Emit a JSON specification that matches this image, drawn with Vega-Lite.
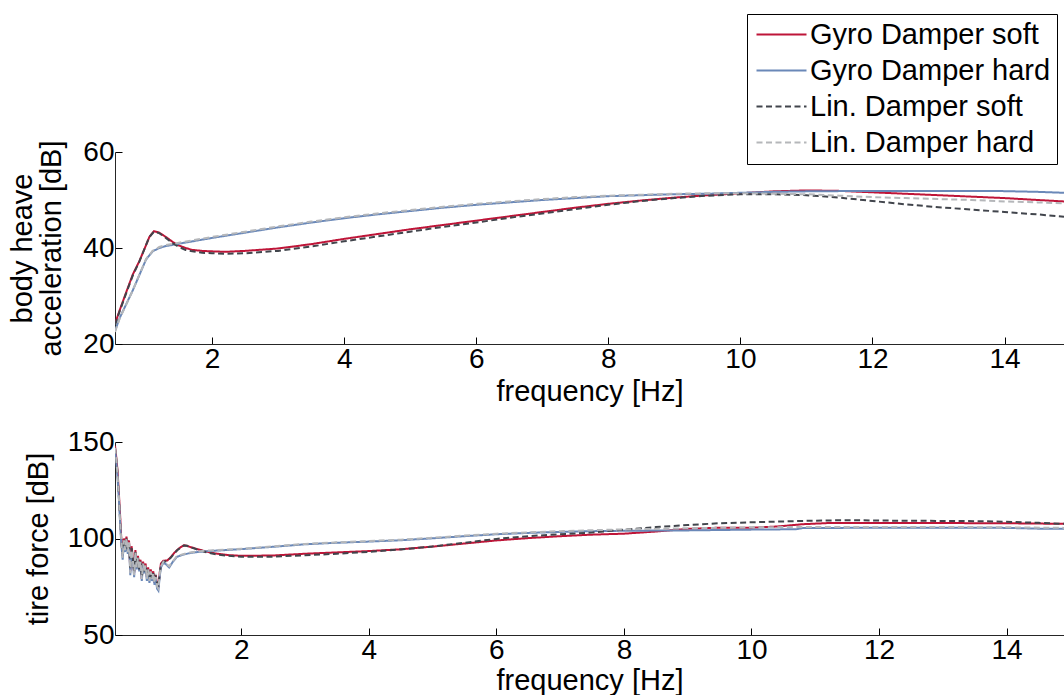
{
"$schema": "https://vega.github.io/schema/vega-lite/v6.json",
"padding": {"left": 8, "top": 13, "right": 0, "bottom": 0},
"config": {
  "font": "Liberation Sans",
  "view": {"stroke": null},
  "axis": {"grid": false, "domainColor": "#262626", "domainWidth": 1, "tickColor": "#000", "tickWidth": 1, "tickSize": -7, "labelPadding": 8, "labelColor": "#000", "titleColor": "#000", "labelFontSize": 28, "titleFontSize": 29, "titleFontWeight": "normal", "labelFont": "Liberation Sans", "titleFont": "Liberation Sans"}
},
"datasets": {
"body": [
{"s":"Gyro Damper soft","f":0.53,"v":24.2},{"s":"Gyro Damper soft","f":0.6,"v":27},{"s":"Gyro Damper soft","f":0.7,"v":30.8},{"s":"Gyro Damper soft","f":0.8,"v":34.5},{"s":"Gyro Damper soft","f":0.9,"v":37.3},{"s":"Gyro Damper soft","f":1.0,"v":40.6},{"s":"Gyro Damper soft","f":1.05,"v":42.3},{"s":"Gyro Damper soft","f":1.12,"v":43.5},{"s":"Gyro Damper soft","f":1.2,"v":43.2},{"s":"Gyro Damper soft","f":1.3,"v":42.3},{"s":"Gyro Damper soft","f":1.4,"v":41.3},{"s":"Gyro Damper soft","f":1.5,"v":40.5},{"s":"Gyro Damper soft","f":1.6,"v":40.0},{"s":"Gyro Damper soft","f":1.7,"v":39.6},{"s":"Gyro Damper soft","f":1.85,"v":39.4},{"s":"Gyro Damper soft","f":2.0,"v":39.3},{"s":"Gyro Damper soft","f":2.2,"v":39.2},{"s":"Gyro Damper soft","f":2.5,"v":39.4},{"s":"Gyro Damper soft","f":2.8,"v":39.7},{"s":"Gyro Damper soft","f":3.0,"v":39.9},{"s":"Gyro Damper soft","f":3.5,"v":40.8},{"s":"Gyro Damper soft","f":4.0,"v":41.9},{"s":"Gyro Damper soft","f":4.5,"v":42.9},{"s":"Gyro Damper soft","f":5.0,"v":43.9},{"s":"Gyro Damper soft","f":5.5,"v":44.8},{"s":"Gyro Damper soft","f":6.0,"v":45.7},{"s":"Gyro Damper soft","f":6.5,"v":46.6},{"s":"Gyro Damper soft","f":7.0,"v":47.5},{"s":"Gyro Damper soft","f":7.5,"v":48.4},{"s":"Gyro Damper soft","f":8.0,"v":49.2},{"s":"Gyro Damper soft","f":8.5,"v":49.9},{"s":"Gyro Damper soft","f":9.0,"v":50.5},{"s":"Gyro Damper soft","f":9.5,"v":51.0},{"s":"Gyro Damper soft","f":10.0,"v":51.4},{"s":"Gyro Damper soft","f":10.5,"v":51.8},{"s":"Gyro Damper soft","f":11.0,"v":52.0},{"s":"Gyro Damper soft","f":11.5,"v":51.9},{"s":"Gyro Damper soft","f":12.0,"v":51.6},{"s":"Gyro Damper soft","f":12.5,"v":51.3},{"s":"Gyro Damper soft","f":13.0,"v":51.0},{"s":"Gyro Damper soft","f":13.5,"v":50.7},{"s":"Gyro Damper soft","f":14.0,"v":50.4},{"s":"Gyro Damper soft","f":14.5,"v":50.0},{"s":"Gyro Damper soft","f":14.9,"v":49.7},
{"s":"Gyro Damper hard","f":0.53,"v":22.7},{"s":"Gyro Damper hard","f":0.6,"v":25.4},{"s":"Gyro Damper hard","f":0.7,"v":28.3},{"s":"Gyro Damper hard","f":0.8,"v":31.2},{"s":"Gyro Damper hard","f":0.9,"v":34.4},{"s":"Gyro Damper hard","f":1.0,"v":37.6},{"s":"Gyro Damper hard","f":1.1,"v":39.3},{"s":"Gyro Damper hard","f":1.2,"v":40.0},{"s":"Gyro Damper hard","f":1.3,"v":40.4},{"s":"Gyro Damper hard","f":1.5,"v":40.9},{"s":"Gyro Damper hard","f":1.75,"v":41.5},{"s":"Gyro Damper hard","f":2.0,"v":42.1},{"s":"Gyro Damper hard","f":2.5,"v":43.2},{"s":"Gyro Damper hard","f":3.0,"v":44.3},{"s":"Gyro Damper hard","f":3.5,"v":45.3},{"s":"Gyro Damper hard","f":4.0,"v":46.2},{"s":"Gyro Damper hard","f":4.5,"v":47.0},{"s":"Gyro Damper hard","f":5.0,"v":47.7},{"s":"Gyro Damper hard","f":5.5,"v":48.4},{"s":"Gyro Damper hard","f":6.0,"v":49.0},{"s":"Gyro Damper hard","f":6.5,"v":49.5},{"s":"Gyro Damper hard","f":7.0,"v":50.0},{"s":"Gyro Damper hard","f":7.5,"v":50.4},{"s":"Gyro Damper hard","f":8.0,"v":50.8},{"s":"Gyro Damper hard","f":8.5,"v":51.0},{"s":"Gyro Damper hard","f":9.0,"v":51.2},{"s":"Gyro Damper hard","f":9.5,"v":51.3},{"s":"Gyro Damper hard","f":10.0,"v":51.5},{"s":"Gyro Damper hard","f":10.5,"v":51.7},{"s":"Gyro Damper hard","f":11.0,"v":51.8},{"s":"Gyro Damper hard","f":12.0,"v":51.9},{"s":"Gyro Damper hard","f":13.0,"v":51.9},{"s":"Gyro Damper hard","f":13.8,"v":51.9},{"s":"Gyro Damper hard","f":14.5,"v":51.7},{"s":"Gyro Damper hard","f":14.9,"v":51.5},
{"s":"Lin. Damper soft","f":0.53,"v":24.0},{"s":"Lin. Damper soft","f":0.6,"v":26.8},{"s":"Lin. Damper soft","f":0.7,"v":30.6},{"s":"Lin. Damper soft","f":0.8,"v":34.3},{"s":"Lin. Damper soft","f":0.9,"v":37.2},{"s":"Lin. Damper soft","f":1.0,"v":40.6},{"s":"Lin. Damper soft","f":1.05,"v":42.3},{"s":"Lin. Damper soft","f":1.12,"v":43.4},{"s":"Lin. Damper soft","f":1.2,"v":43.1},{"s":"Lin. Damper soft","f":1.3,"v":42.1},{"s":"Lin. Damper soft","f":1.4,"v":41.0},{"s":"Lin. Damper soft","f":1.5,"v":40.2},{"s":"Lin. Damper soft","f":1.6,"v":39.6},{"s":"Lin. Damper soft","f":1.7,"v":39.3},{"s":"Lin. Damper soft","f":1.85,"v":39.0},{"s":"Lin. Damper soft","f":2.0,"v":38.9},{"s":"Lin. Damper soft","f":2.2,"v":38.8},{"s":"Lin. Damper soft","f":2.5,"v":38.9},{"s":"Lin. Damper soft","f":2.8,"v":39.2},{"s":"Lin. Damper soft","f":3.0,"v":39.4},{"s":"Lin. Damper soft","f":3.5,"v":40.3},{"s":"Lin. Damper soft","f":4.0,"v":41.4},{"s":"Lin. Damper soft","f":4.5,"v":42.4},{"s":"Lin. Damper soft","f":5.0,"v":43.4},{"s":"Lin. Damper soft","f":5.5,"v":44.4},{"s":"Lin. Damper soft","f":6.0,"v":45.3},{"s":"Lin. Damper soft","f":6.5,"v":46.3},{"s":"Lin. Damper soft","f":7.0,"v":47.2},{"s":"Lin. Damper soft","f":7.5,"v":48.1},{"s":"Lin. Damper soft","f":8.0,"v":49.0},{"s":"Lin. Damper soft","f":8.5,"v":49.8},{"s":"Lin. Damper soft","f":9.0,"v":50.4},{"s":"Lin. Damper soft","f":9.5,"v":50.9},{"s":"Lin. Damper soft","f":10.0,"v":51.2},{"s":"Lin. Damper soft","f":10.5,"v":51.2},{"s":"Lin. Damper soft","f":11.0,"v":51.0},{"s":"Lin. Damper soft","f":11.5,"v":50.5},{"s":"Lin. Damper soft","f":12.0,"v":49.8},{"s":"Lin. Damper soft","f":12.5,"v":49.1},{"s":"Lin. Damper soft","f":13.0,"v":48.5},{"s":"Lin. Damper soft","f":13.5,"v":48.0},{"s":"Lin. Damper soft","f":14.0,"v":47.5},{"s":"Lin. Damper soft","f":14.5,"v":47.0},{"s":"Lin. Damper soft","f":14.9,"v":46.5},
{"s":"Lin. Damper hard","f":0.53,"v":22.5},{"s":"Lin. Damper hard","f":0.6,"v":25.3},{"s":"Lin. Damper hard","f":0.7,"v":28.2},{"s":"Lin. Damper hard","f":0.8,"v":31.2},{"s":"Lin. Damper hard","f":0.9,"v":34.5},{"s":"Lin. Damper hard","f":1.0,"v":37.7},{"s":"Lin. Damper hard","f":1.1,"v":39.4},{"s":"Lin. Damper hard","f":1.2,"v":40.2},{"s":"Lin. Damper hard","f":1.3,"v":40.6},{"s":"Lin. Damper hard","f":1.5,"v":41.1},{"s":"Lin. Damper hard","f":1.75,"v":41.7},{"s":"Lin. Damper hard","f":2.0,"v":42.3},{"s":"Lin. Damper hard","f":2.5,"v":43.4},{"s":"Lin. Damper hard","f":3.0,"v":44.5},{"s":"Lin. Damper hard","f":3.5,"v":45.5},{"s":"Lin. Damper hard","f":4.0,"v":46.4},{"s":"Lin. Damper hard","f":4.5,"v":47.2},{"s":"Lin. Damper hard","f":5.0,"v":47.9},{"s":"Lin. Damper hard","f":5.5,"v":48.6},{"s":"Lin. Damper hard","f":6.0,"v":49.2},{"s":"Lin. Damper hard","f":6.5,"v":49.7},{"s":"Lin. Damper hard","f":7.0,"v":50.2},{"s":"Lin. Damper hard","f":7.5,"v":50.6},{"s":"Lin. Damper hard","f":8.0,"v":50.9},{"s":"Lin. Damper hard","f":8.5,"v":51.1},{"s":"Lin. Damper hard","f":9.0,"v":51.3},{"s":"Lin. Damper hard","f":9.5,"v":51.4},{"s":"Lin. Damper hard","f":10.0,"v":51.4},{"s":"Lin. Damper hard","f":10.5,"v":51.3},{"s":"Lin. Damper hard","f":11.0,"v":51.2},{"s":"Lin. Damper hard","f":11.5,"v":50.9},{"s":"Lin. Damper hard","f":12.0,"v":50.6},{"s":"Lin. Damper hard","f":12.5,"v":50.4},{"s":"Lin. Damper hard","f":13.0,"v":50.2},{"s":"Lin. Damper hard","f":13.5,"v":50.0},{"s":"Lin. Damper hard","f":14.0,"v":49.7},{"s":"Lin. Damper hard","f":14.5,"v":49.5},{"s":"Lin. Damper hard","f":14.9,"v":49.3}
],
"tire": [
{"s":"Gyro Damper soft","f":0.02,"v":148},{"s":"Gyro Damper soft","f":0.04,"v":142},{"s":"Gyro Damper soft","f":0.06,"v":135},{"s":"Gyro Damper soft","f":0.08,"v":124},{"s":"Gyro Damper soft","f":0.1,"v":112},{"s":"Gyro Damper soft","f":0.12,"v":99},{"s":"Gyro Damper soft","f":0.14,"v":91},{"s":"Gyro Damper soft","f":0.16,"v":100},{"s":"Gyro Damper soft","f":0.18,"v":96},{"s":"Gyro Damper soft","f":0.2,"v":101},{"s":"Gyro Damper soft","f":0.22,"v":94},{"s":"Gyro Damper soft","f":0.24,"v":99},{"s":"Gyro Damper soft","f":0.26,"v":83},{"s":"Gyro Damper soft","f":0.28,"v":96},{"s":"Gyro Damper soft","f":0.3,"v":90},{"s":"Gyro Damper soft","f":0.32,"v":82},{"s":"Gyro Damper soft","f":0.34,"v":94},{"s":"Gyro Damper soft","f":0.36,"v":86},{"s":"Gyro Damper soft","f":0.38,"v":91},{"s":"Gyro Damper soft","f":0.4,"v":85},{"s":"Gyro Damper soft","f":0.42,"v":89},{"s":"Gyro Damper soft","f":0.44,"v":79},{"s":"Gyro Damper soft","f":0.46,"v":88},{"s":"Gyro Damper soft","f":0.48,"v":84},{"s":"Gyro Damper soft","f":0.5,"v":87},{"s":"Gyro Damper soft","f":0.52,"v":80},{"s":"Gyro Damper soft","f":0.54,"v":85},{"s":"Gyro Damper soft","f":0.56,"v":79},{"s":"Gyro Damper soft","f":0.58,"v":84},{"s":"Gyro Damper soft","f":0.6,"v":80},{"s":"Gyro Damper soft","f":0.62,"v":83},{"s":"Gyro Damper soft","f":0.64,"v":77},{"s":"Gyro Damper soft","f":0.66,"v":81},{"s":"Gyro Damper soft","f":0.68,"v":76},{"s":"Gyro Damper soft","f":0.7,"v":74.5},{"s":"Gyro Damper soft","f":0.72,"v":82},
{"s":"Gyro Damper soft","f":0.74,"v":87},{"s":"Gyro Damper soft","f":0.78,"v":88.5},{"s":"Gyro Damper soft","f":0.84,"v":88.6},{"s":"Gyro Damper soft","f":0.9,"v":90.5},{"s":"Gyro Damper soft","f":0.95,"v":92.6},{"s":"Gyro Damper soft","f":1.0,"v":94.2},{"s":"Gyro Damper soft","f":1.05,"v":95.5},{"s":"Gyro Damper soft","f":1.1,"v":96.5},{"s":"Gyro Damper soft","f":1.15,"v":96.2},{"s":"Gyro Damper soft","f":1.2,"v":95.6},{"s":"Gyro Damper soft","f":1.3,"v":94.6},{"s":"Gyro Damper soft","f":1.45,"v":93.2},{"s":"Gyro Damper soft","f":1.6,"v":92.2},{"s":"Gyro Damper soft","f":1.8,"v":91.4},{"s":"Gyro Damper soft","f":2.0,"v":91.0},{"s":"Gyro Damper soft","f":2.5,"v":91.2},{"s":"Gyro Damper soft","f":3.0,"v":92.1},{"s":"Gyro Damper soft","f":3.5,"v":92.8},{"s":"Gyro Damper soft","f":4.0,"v":93.5},{"s":"Gyro Damper soft","f":4.5,"v":94.4},{"s":"Gyro Damper soft","f":5.0,"v":95.8},{"s":"Gyro Damper soft","f":5.5,"v":97.4},{"s":"Gyro Damper soft","f":6.0,"v":99.0},{"s":"Gyro Damper soft","f":6.5,"v":100.2},{"s":"Gyro Damper soft","f":7.0,"v":101.2},{"s":"Gyro Damper soft","f":7.5,"v":102.0},{"s":"Gyro Damper soft","f":8.0,"v":102.5},{"s":"Gyro Damper soft","f":8.5,"v":103.6},{"s":"Gyro Damper soft","f":9.0,"v":105.0},{"s":"Gyro Damper soft","f":9.5,"v":105.6},{"s":"Gyro Damper soft","f":10.0,"v":105.6},{"s":"Gyro Damper soft","f":10.4,"v":106.2},{"s":"Gyro Damper soft","f":10.8,"v":107.4},{"s":"Gyro Damper soft","f":11.2,"v":108.0},{"s":"Gyro Damper soft","f":12.0,"v":108.0},{"s":"Gyro Damper soft","f":13.0,"v":108.0},{"s":"Gyro Damper soft","f":14.0,"v":107.9},{"s":"Gyro Damper soft","f":14.9,"v":107.6},
{"s":"Gyro Damper hard","f":0.02,"v":146},{"s":"Gyro Damper hard","f":0.04,"v":140},{"s":"Gyro Damper hard","f":0.06,"v":132},{"s":"Gyro Damper hard","f":0.08,"v":121},{"s":"Gyro Damper hard","f":0.1,"v":108},{"s":"Gyro Damper hard","f":0.12,"v":97},{"s":"Gyro Damper hard","f":0.14,"v":89},{"s":"Gyro Damper hard","f":0.16,"v":98},{"s":"Gyro Damper hard","f":0.18,"v":93},{"s":"Gyro Damper hard","f":0.2,"v":99},{"s":"Gyro Damper hard","f":0.22,"v":92},{"s":"Gyro Damper hard","f":0.24,"v":97},{"s":"Gyro Damper hard","f":0.26,"v":81},{"s":"Gyro Damper hard","f":0.28,"v":93},{"s":"Gyro Damper hard","f":0.3,"v":88},{"s":"Gyro Damper hard","f":0.32,"v":80},{"s":"Gyro Damper hard","f":0.34,"v":92},{"s":"Gyro Damper hard","f":0.36,"v":84},{"s":"Gyro Damper hard","f":0.38,"v":89},{"s":"Gyro Damper hard","f":0.4,"v":83},{"s":"Gyro Damper hard","f":0.42,"v":87},{"s":"Gyro Damper hard","f":0.44,"v":78},{"s":"Gyro Damper hard","f":0.46,"v":86},{"s":"Gyro Damper hard","f":0.48,"v":82},{"s":"Gyro Damper hard","f":0.5,"v":85},{"s":"Gyro Damper hard","f":0.52,"v":78},{"s":"Gyro Damper hard","f":0.54,"v":83},{"s":"Gyro Damper hard","f":0.56,"v":77},{"s":"Gyro Damper hard","f":0.58,"v":82},{"s":"Gyro Damper hard","f":0.6,"v":78},{"s":"Gyro Damper hard","f":0.62,"v":81},{"s":"Gyro Damper hard","f":0.64,"v":76},{"s":"Gyro Damper hard","f":0.66,"v":79},{"s":"Gyro Damper hard","f":0.68,"v":74},{"s":"Gyro Damper hard","f":0.7,"v":73},{"s":"Gyro Damper hard","f":0.72,"v":80},
{"s":"Gyro Damper hard","f":0.74,"v":85},{"s":"Gyro Damper hard","f":0.78,"v":87.5},{"s":"Gyro Damper hard","f":0.82,"v":86.6},{"s":"Gyro Damper hard","f":0.87,"v":85.0},{"s":"Gyro Damper hard","f":0.92,"v":87.6},{"s":"Gyro Damper hard","f":0.99,"v":90.5},{"s":"Gyro Damper hard","f":1.05,"v":91.2},{"s":"Gyro Damper hard","f":1.1,"v":91.7},{"s":"Gyro Damper hard","f":1.2,"v":92.5},{"s":"Gyro Damper hard","f":1.35,"v":93.1},{"s":"Gyro Damper hard","f":1.5,"v":93.5},{"s":"Gyro Damper hard","f":2.0,"v":94.5},{"s":"Gyro Damper hard","f":2.5,"v":95.7},{"s":"Gyro Damper hard","f":3.0,"v":97.0},{"s":"Gyro Damper hard","f":3.5,"v":97.8},{"s":"Gyro Damper hard","f":4.0,"v":98.4},{"s":"Gyro Damper hard","f":4.5,"v":99.1},{"s":"Gyro Damper hard","f":5.0,"v":100.1},{"s":"Gyro Damper hard","f":5.5,"v":101.2},{"s":"Gyro Damper hard","f":6.0,"v":102.2},{"s":"Gyro Damper hard","f":6.5,"v":102.9},{"s":"Gyro Damper hard","f":7.0,"v":103.4},{"s":"Gyro Damper hard","f":7.5,"v":103.8},{"s":"Gyro Damper hard","f":8.0,"v":104.0},{"s":"Gyro Damper hard","f":9.0,"v":104.2},{"s":"Gyro Damper hard","f":10.0,"v":104.6},{"s":"Gyro Damper hard","f":10.7,"v":104.8},{"s":"Gyro Damper hard","f":10.8,"v":105.4},{"s":"Gyro Damper hard","f":12.0,"v":105.6},{"s":"Gyro Damper hard","f":13.0,"v":105.6},{"s":"Gyro Damper hard","f":14.0,"v":105.5},{"s":"Gyro Damper hard","f":14.5,"v":105.1},{"s":"Gyro Damper hard","f":14.9,"v":105.0},
{"s":"Lin. Damper soft","f":0.02,"v":147},{"s":"Lin. Damper soft","f":0.04,"v":141},{"s":"Lin. Damper soft","f":0.06,"v":134},{"s":"Lin. Damper soft","f":0.08,"v":122},{"s":"Lin. Damper soft","f":0.1,"v":110},{"s":"Lin. Damper soft","f":0.12,"v":98},{"s":"Lin. Damper soft","f":0.14,"v":92},{"s":"Lin. Damper soft","f":0.16,"v":99},{"s":"Lin. Damper soft","f":0.18,"v":95},{"s":"Lin. Damper soft","f":0.2,"v":100},{"s":"Lin. Damper soft","f":0.22,"v":93},{"s":"Lin. Damper soft","f":0.24,"v":98},{"s":"Lin. Damper soft","f":0.26,"v":84},{"s":"Lin. Damper soft","f":0.28,"v":95},{"s":"Lin. Damper soft","f":0.3,"v":89},{"s":"Lin. Damper soft","f":0.32,"v":83},{"s":"Lin. Damper soft","f":0.34,"v":93},{"s":"Lin. Damper soft","f":0.36,"v":85},{"s":"Lin. Damper soft","f":0.38,"v":90},{"s":"Lin. Damper soft","f":0.4,"v":84},{"s":"Lin. Damper soft","f":0.42,"v":88},{"s":"Lin. Damper soft","f":0.44,"v":80},{"s":"Lin. Damper soft","f":0.46,"v":87},{"s":"Lin. Damper soft","f":0.48,"v":83},{"s":"Lin. Damper soft","f":0.5,"v":86},{"s":"Lin. Damper soft","f":0.52,"v":81},{"s":"Lin. Damper soft","f":0.54,"v":84},{"s":"Lin. Damper soft","f":0.56,"v":80},{"s":"Lin. Damper soft","f":0.58,"v":83},{"s":"Lin. Damper soft","f":0.6,"v":79},{"s":"Lin. Damper soft","f":0.62,"v":82},{"s":"Lin. Damper soft","f":0.64,"v":78},{"s":"Lin. Damper soft","f":0.66,"v":80},{"s":"Lin. Damper soft","f":0.68,"v":77},{"s":"Lin. Damper soft","f":0.7,"v":75},{"s":"Lin. Damper soft","f":0.72,"v":81},
{"s":"Lin. Damper soft","f":0.74,"v":86.5},{"s":"Lin. Damper soft","f":0.78,"v":88.0},{"s":"Lin. Damper soft","f":0.84,"v":88.3},{"s":"Lin. Damper soft","f":0.9,"v":90.2},{"s":"Lin. Damper soft","f":0.95,"v":92.4},{"s":"Lin. Damper soft","f":1.0,"v":94.0},{"s":"Lin. Damper soft","f":1.05,"v":95.4},{"s":"Lin. Damper soft","f":1.1,"v":96.4},{"s":"Lin. Damper soft","f":1.15,"v":96.2},{"s":"Lin. Damper soft","f":1.2,"v":95.5},{"s":"Lin. Damper soft","f":1.3,"v":94.4},{"s":"Lin. Damper soft","f":1.45,"v":92.9},{"s":"Lin. Damper soft","f":1.6,"v":91.8},{"s":"Lin. Damper soft","f":1.8,"v":91.0},{"s":"Lin. Damper soft","f":2.0,"v":90.6},{"s":"Lin. Damper soft","f":2.5,"v":90.6},{"s":"Lin. Damper soft","f":3.0,"v":91.3},{"s":"Lin. Damper soft","f":3.5,"v":92.1},{"s":"Lin. Damper soft","f":4.0,"v":93.1},{"s":"Lin. Damper soft","f":4.5,"v":94.3},{"s":"Lin. Damper soft","f":5.0,"v":95.9},{"s":"Lin. Damper soft","f":5.5,"v":97.8},{"s":"Lin. Damper soft","f":6.0,"v":99.8},{"s":"Lin. Damper soft","f":6.5,"v":101.2},{"s":"Lin. Damper soft","f":7.0,"v":102.2},{"s":"Lin. Damper soft","f":7.5,"v":103.1},{"s":"Lin. Damper soft","f":8.0,"v":104.6},{"s":"Lin. Damper soft","f":8.5,"v":105.9},{"s":"Lin. Damper soft","f":9.0,"v":107.0},{"s":"Lin. Damper soft","f":9.5,"v":107.9},{"s":"Lin. Damper soft","f":10.0,"v":108.4},{"s":"Lin. Damper soft","f":10.8,"v":109.1},{"s":"Lin. Damper soft","f":11.5,"v":109.5},{"s":"Lin. Damper soft","f":12.0,"v":109.3},{"s":"Lin. Damper soft","f":13.0,"v":109.1},{"s":"Lin. Damper soft","f":13.5,"v":109.0},{"s":"Lin. Damper soft","f":14.0,"v":108.7},{"s":"Lin. Damper soft","f":14.5,"v":108.1},{"s":"Lin. Damper soft","f":14.9,"v":107.6},
{"s":"Lin. Damper hard","f":0.02,"v":147},{"s":"Lin. Damper hard","f":0.04,"v":141},{"s":"Lin. Damper hard","f":0.06,"v":133},{"s":"Lin. Damper hard","f":0.08,"v":122},{"s":"Lin. Damper hard","f":0.1,"v":109},{"s":"Lin. Damper hard","f":0.12,"v":98},{"s":"Lin. Damper hard","f":0.14,"v":90},{"s":"Lin. Damper hard","f":0.16,"v":99},{"s":"Lin. Damper hard","f":0.18,"v":94},{"s":"Lin. Damper hard","f":0.2,"v":100},{"s":"Lin. Damper hard","f":0.22,"v":93},{"s":"Lin. Damper hard","f":0.24,"v":98},{"s":"Lin. Damper hard","f":0.26,"v":82},{"s":"Lin. Damper hard","f":0.28,"v":94},{"s":"Lin. Damper hard","f":0.3,"v":89},{"s":"Lin. Damper hard","f":0.32,"v":81},{"s":"Lin. Damper hard","f":0.34,"v":93},{"s":"Lin. Damper hard","f":0.36,"v":85},{"s":"Lin. Damper hard","f":0.38,"v":90},{"s":"Lin. Damper hard","f":0.4,"v":84},{"s":"Lin. Damper hard","f":0.42,"v":88},{"s":"Lin. Damper hard","f":0.44,"v":79},{"s":"Lin. Damper hard","f":0.46,"v":87},{"s":"Lin. Damper hard","f":0.48,"v":83},{"s":"Lin. Damper hard","f":0.5,"v":86},{"s":"Lin. Damper hard","f":0.52,"v":79},{"s":"Lin. Damper hard","f":0.54,"v":84},{"s":"Lin. Damper hard","f":0.56,"v":78},{"s":"Lin. Damper hard","f":0.58,"v":83},{"s":"Lin. Damper hard","f":0.6,"v":79},{"s":"Lin. Damper hard","f":0.62,"v":82},{"s":"Lin. Damper hard","f":0.64,"v":77},{"s":"Lin. Damper hard","f":0.66,"v":80},{"s":"Lin. Damper hard","f":0.68,"v":75},{"s":"Lin. Damper hard","f":0.7,"v":74},{"s":"Lin. Damper hard","f":0.72,"v":81},
{"s":"Lin. Damper hard","f":0.74,"v":85.5},{"s":"Lin. Damper hard","f":0.78,"v":88.0},{"s":"Lin. Damper hard","f":0.82,"v":87.0},{"s":"Lin. Damper hard","f":0.87,"v":85.6},{"s":"Lin. Damper hard","f":0.92,"v":88.0},{"s":"Lin. Damper hard","f":0.99,"v":90.8},{"s":"Lin. Damper hard","f":1.05,"v":91.5},{"s":"Lin. Damper hard","f":1.1,"v":92.0},{"s":"Lin. Damper hard","f":1.2,"v":92.8},{"s":"Lin. Damper hard","f":1.35,"v":93.4},{"s":"Lin. Damper hard","f":1.5,"v":93.8},{"s":"Lin. Damper hard","f":2.0,"v":94.7},{"s":"Lin. Damper hard","f":2.5,"v":95.9},{"s":"Lin. Damper hard","f":3.0,"v":97.2},{"s":"Lin. Damper hard","f":3.5,"v":98.0},{"s":"Lin. Damper hard","f":4.0,"v":98.7},{"s":"Lin. Damper hard","f":4.5,"v":99.4},{"s":"Lin. Damper hard","f":5.0,"v":100.4},{"s":"Lin. Damper hard","f":5.5,"v":101.5},{"s":"Lin. Damper hard","f":6.0,"v":102.5},{"s":"Lin. Damper hard","f":6.5,"v":103.2},{"s":"Lin. Damper hard","f":7.0,"v":103.8},{"s":"Lin. Damper hard","f":7.5,"v":104.3},{"s":"Lin. Damper hard","f":8.0,"v":104.7},{"s":"Lin. Damper hard","f":9.0,"v":105.3},{"s":"Lin. Damper hard","f":10.0,"v":105.8},{"s":"Lin. Damper hard","f":11.0,"v":106.0},{"s":"Lin. Damper hard","f":12.0,"v":106.0},{"s":"Lin. Damper hard","f":13.0,"v":106.0},{"s":"Lin. Damper hard","f":14.0,"v":105.8},{"s":"Lin. Damper hard","f":14.9,"v":105.5}
]
},
"spacing": 98,
"bounds": "flush",
"resolve": {"scale": {"x": "independent", "y": "independent", "color": "independent", "strokeDash": "independent"}},
"vconcat": [
{
  "width": 949, "height": 192,
  "data": {"name": "body"},
  "mark": {"type": "line", "strokeWidth": 2, "clip": true},
  "encoding": {
    "x": {"field": "f", "type": "quantitative", "scale": {"domain": [0.53, 14.9], "nice": false, "zero": false}, "axis": {"values": [2,4,6,8,10,12,14], "title": "frequency [Hz]", "titlePadding": 4}},
    "y": {"field": "v", "type": "quantitative", "scale": {"domain": [20, 60], "nice": false, "zero": false}, "axis": {"values": [20,40,60], "title": ["body heave", "acceleration [dB]"], "titleLineHeight": 29, "titlePadding": 16}},
    "color": {"field": "s", "type": "nominal", "scale": {"domain": ["Gyro Damper soft","Gyro Damper hard","Lin. Damper soft","Lin. Damper hard"], "range": ["#BE1538","#6A88B8","#41454C","#B5B7BA"]},
      "legend": {"title": null, "orient": "none", "legendX": 632, "legendY": -138, "strokeColor": "#000", "fillColor": "#fff", "padding": 6, "symbolType": "M-2.5,0H2.5", "symbolSize": 400, "symbolStrokeWidth": 2, "labelFontSize": 29, "labelLimit": 400, "labelColor": "#000", "rowPadding": 6, "symbolOffset": 14, "labelOffset": 14}},
    "strokeDash": {"field": "s", "type": "nominal", "scale": {"domain": ["Gyro Damper soft","Gyro Damper hard","Lin. Damper soft","Lin. Damper hard"], "range": [[1,0],[1,0],[6,3.5],[6,3.5]]},
      "legend": {"title": null, "orient": "none", "legendX": 632, "legendY": -138, "strokeColor": "#000", "fillColor": "#fff", "padding": 6, "symbolType": "M-2.5,0H2.5", "symbolSize": 400, "symbolStrokeWidth": 2, "labelFontSize": 29, "labelLimit": 400, "labelColor": "#000", "rowPadding": 6, "symbolOffset": 14, "labelOffset": 14}}
  }
},
{
  "width": 949, "height": 193,
  "data": {"name": "tire"},
  "mark": {"type": "line", "strokeWidth": 2, "clip": true},
  "encoding": {
    "x": {"field": "f", "type": "quantitative", "scale": {"domain": [0.02, 14.9], "nice": false, "zero": false}, "axis": {"values": [2,4,6,8,10,12,14], "title": "frequency [Hz]", "titlePadding": 2}},
    "y": {"field": "v", "type": "quantitative", "scale": {"domain": [50, 150], "nice": false, "zero": false}, "axis": {"values": [50,100,150], "title": "tire force [dB]", "titlePadding": 14}},
    "color": {"field": "s", "type": "nominal", "scale": {"domain": ["Gyro Damper soft","Gyro Damper hard","Lin. Damper soft","Lin. Damper hard"], "range": ["#BE1538","#6A88B8","#41454C","#B5B7BA"]}, "legend": null},
    "strokeDash": {"field": "s", "type": "nominal", "scale": {"domain": ["Gyro Damper soft","Gyro Damper hard","Lin. Damper soft","Lin. Damper hard"], "range": [[1,0],[1,0],[6,3.5],[6,3.5]]}, "legend": null}
  }
}
]
}
